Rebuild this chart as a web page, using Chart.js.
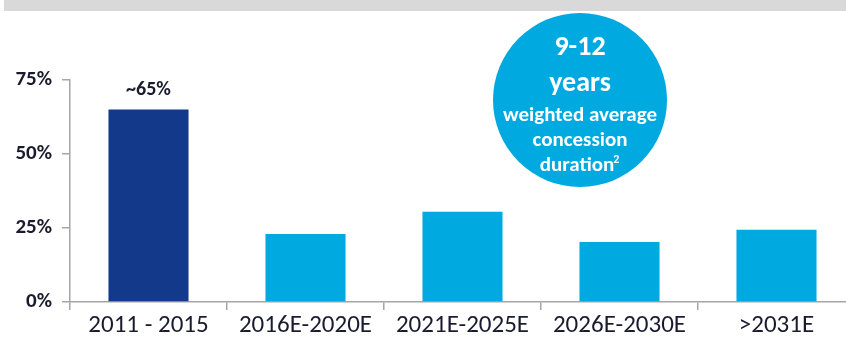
<!DOCTYPE html>
<html>
<head>
<meta charset="utf-8">
<script src="https://cdn.jsdelivr.net/npm/chart.js@4.4.1/dist/chart.umd.min.js"></script>
<style>
  html, body { margin: 0; padding: 0; background: #fff; overflow: hidden; }
  body { width: 846px; height: 344px; position: relative; }
  #banda { position: absolute; left: 4px; top: 0; width: 842px; height: 11px; background: #d9d9d9; }
  #wrap { position: absolute; left: 0; top: 0; width: 860px; height: 344px; }
</style>
</head>
<body>
<div id="banda"></div>
<div id="wrap"><canvas id="myChart" width="860" height="344"></canvas></div>
<script>
// Datos del gráfico
const periodos = ['2011 - 2015', '2016E-2020E', '2021E-2025E', '2026E-2030E', '>2031E'];
const porcentajes = [65, 23, 30.5, 20.3, 24.4];
const coloresBarras = ['#13398a', '#00a9e0', '#00a9e0', '#00a9e0', '#00a9e0'];
const ticksY = [0, 25, 50, 75];
const etiquetas = ['~65%', '', '', '', ''];
// Texto del círculo: [texto, tamaño, línea base]
const lineasCirculo = [['9-12', 28, 55], ['years', 28, 91], ['weighted average', 21, 121], ['concession', 21, 146], ['duration', 21, 171]];

const fuente = 'Carlito, Calibri, Lato, "Noto Sans", sans-serif';
const colorTexto = '#1b1b2f';
const colorEje = '#a6a6a6';
const azulClaro = '#00a9e0';

// Plugin para escribir la etiqueta encima de la barra
const etiquetaBarra = {
    id: 'etiquetaBarra',
    afterDatasetsDraw(chart) {
        const ctx = chart.ctx;
        const meta = chart.getDatasetMeta(0);
        ctx.save();
        ctx.fillStyle = colorTexto;
        ctx.font = 'bold 20px ' + fuente;
        ctx.textAlign = 'center';
        ctx.textBaseline = 'middle';
        meta.data.forEach(function(barra, i) {
            if (etiquetas[i]) ctx.fillText(etiquetas[i], barra.x, barra.y - 20);
        });
        ctx.restore();
    }
};

// Plugin para el círculo con la duración media
const circulo = {
    id: 'circulo',
    afterDraw(chart) {
        const ctx = chart.ctx;
        const cx = 580, cy = 100;
        ctx.save();
        ctx.fillStyle = azulClaro;
        ctx.beginPath();
        ctx.arc(cx, cy, 87, 0, Math.PI * 2);
        ctx.fill();
        ctx.fillStyle = '#ffffff';
        ctx.textAlign = 'center';
        ctx.textBaseline = 'alphabetic';
        lineasCirculo.forEach(function(l) {
            ctx.font = 'bold ' + l[1] + 'px ' + fuente;
            ctx.fillText(l[0], cx - (l[0] === 'duration' ? 3 : 0), l[2]);
        });
        // superíndice de la última línea
        ctx.font = 'bold 21px ' + fuente;
        const ancho = ctx.measureText('duration').width;
        ctx.font = 'bold 12px ' + fuente;
        ctx.textAlign = 'left';
        ctx.fillText('2', cx - 3 + ancho / 2 - 1, 163);
        ctx.restore();
    }
};

const ctx = document.getElementById('myChart').getContext('2d');
const myChart = new Chart(ctx, {
    type: 'bar',
    data: {
        labels: periodos,
        datasets: [{
            data: porcentajes,
            backgroundColor: coloresBarras,
            barPercentage: 0.51,
            categoryPercentage: 1
        }]
    },
    options: {
        responsive: false,
        animation: false,
        layout: { padding: { top: 80, right: 5, left: 0, bottom: 0 } },
        plugins: { legend: { display: false }, tooltip: { enabled: false } },
        scales: {
            x: {
                grid: { offset: true, drawOnChartArea: false, tickLength: 8, color: colorEje, lineWidth: 1.5 },
                border: { color: colorEje, width: 1.5 },
                ticks: { color: colorTexto, font: { family: fuente, size: 25 }, padding: 1, maxRotation: 0 },
                afterFit(scale) { scale.height = 42; }
            },
            y: {
                min: 0,
                max: 75,
                afterBuildTicks(scale) { scale.ticks = ticksY.map(v => ({ value: v })); },
                grid: { drawOnChartArea: false, tickLength: 8, color: colorEje, lineWidth: 1.5 },
                border: { color: colorEje, width: 1.5 },
                ticks: {
                    color: colorTexto,
                    font: { family: fuente, size: 21, weight: 'bold' },
                    padding: 10,
                    callback: v => v + '%'
                },
                afterFit(scale) { scale.width = 70; }
            }
        }
    },
    plugins: [etiquetaBarra, circulo]
});
</script>
</body>
</html>
